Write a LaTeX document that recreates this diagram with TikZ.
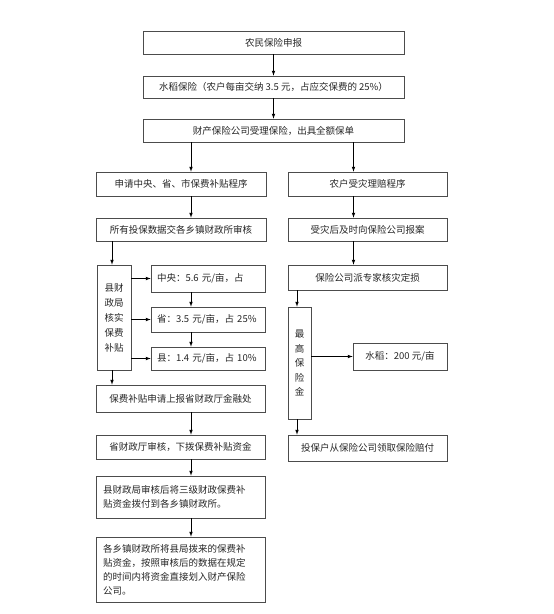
\documentclass[tikz,border=0pt]{standalone}
\usepackage{fontspec}
\setmainfont{Noto Sans CJK SC}
\usetikzlibrary{arrows}

\begin{document}
\begin{tikzpicture}[x=1pt,y=-1pt]
		\tikzset{box/.style={draw=black!70, line width=0.7pt, text=black!85, inner sep=0pt, align=center, font=\fontsize{9.5}{14}\selectfont},
			lbox/.style={box, align=left, text width=#1},
			arr/.style={->, >=latex, line width=0.7pt, black}};
		\useasboundingbox (0,0) rectangle (554,614);
		% top part
		\node[box, minimum width=261, minimum height=23] (apply) at (273.5,42.5) {农民保险申报};
		\node[box, minimum width=261, minimum height=22] (rice) at (273.5,87) {水稻保险（农户每亩交纳 3.5 元，占应交保费的 25\%）};
		\node[box, minimum width=261, minimum height=23] (accept) at (273.5,130.5) {财产保险公司受理保险，出具全额保单};
		% left column
		\node[box, minimum width=170, minimum height=24] (subsidy) at (181,184) {申请中央、省、市保费补贴程序};
		\node[box, minimum width=170, minimum height=23] (data) at (181,229.5) {所有投保数据交各乡镇财政所审核};
		\node[box, minimum width=34, minimum height=105, text depth=0pt, font=\fontsize{9.5}{15}\selectfont] (county) at (114,317.5) {县财\\政局\\核实\\保费\\补贴};
		\node[lbox=102, minimum width=114, minimum height=27] (central) at (208,278.5) {中央：5.6 元/亩，占};
		\node[lbox=102, minimum width=114, minimum height=25] (prov) at (208,319.5) {省：3.5 元/亩，占 25\%};
		\node[lbox=102, minimum width=114, minimum height=23] (cnty) at (208,358.5) {县：1.4 元/亩，占 10\%};
		\node[box, minimum width=169, minimum height=27] (report) at (180.5,398.5) {保费补贴申请上报省财政厅金融处};
		\node[box, minimum width=169, minimum height=24] (approve) at (180.5,447) {省财政厅审核，下拨保费补贴资金};
		\node[lbox=155, minimum width=169, minimum height=42] (allocate) at (180.5,497) {县财政局审核后将三级财政保费补\\贴资金拨付到各乡镇财政所。};
		\node[lbox=155, minimum width=169, minimum height=65] (transfer) at (180.5,569.5) {各乡镇财政所将县局拨来的保费补\\贴资金，按照审核后的数据在规定\\的时间内将资金直接划入财产保险\\公司。};
		% right column
		\node[box, minimum width=159, minimum height=24] (claim) at (367.5,184) {农户受灾理赔程序};
		\node[box, minimum width=159, minimum height=23] (notify) at (367.5,229.5) {受灾后及时向保险公司报案};
		\node[box, minimum width=159, minimum height=25] (assess) at (367.5,277.5) {保险公司派专家核灾定损};
		\node[box, minimum width=23, minimum height=112, font=\fontsize{9.5}{14.5}\selectfont] (maxpay) at (299.5,363) {最\\高\\保\\险\\金};
		\node[box, minimum width=94, minimum height=27] (ricepay) at (400,356.5) {水稻：200 元/亩};
		\node[box, minimum width=159, minimum height=26] (payout) at (367.5,448) {投保户从保险公司领取保险赔付};
		
		\draw[arr] (apply) -- (rice);
		\draw[arr] (rice) -- (accept);
		\draw[arr] ([xshift=10]subsidy.north |- accept.south) -- ([xshift=10]subsidy.north);
		\draw[arr] ([xshift=-14]claim.north |- accept.south) -- ([xshift=-14]claim.north);
		
		\draw[arr] ([xshift=10]subsidy.south) -- ([xshift=10]data.north);
		\draw[arr] ([xshift=-2]county.north |- data.south) -- ([xshift=-2]county.north);
		\draw[arr] (county.east |- central) -- (central.west);
		\draw[arr] (county.east |- prov) -- (prov.west);
		\draw[arr] (county.east |- cnty) -- (cnty.west);
		\draw[arr] ([xshift=-17]central.south) -- ([xshift=-17]prov.north);
		\draw[arr] ([xshift=-17]prov.south) -- ([xshift=-17]cnty.north);
		\draw[arr] ([xshift=-2]county.south) -- ([xshift=-2]county.south |- report.north);
		\draw[arr] ([xshift=10.5]report.south) -- ([xshift=10.5]approve.north);
		\draw[arr] ([xshift=10.5]approve.south) -- ([xshift=10.5]allocate.north);
		\draw[arr] ([xshift=10.5]allocate.south) -- ([xshift=10.5]transfer.north);
		
		\draw[arr] ([xshift=-14]claim.south) -- ([xshift=-14]notify.north);
		\draw[arr] ([xshift=-14]notify.south) -- ([xshift=-14]assess.north);
		\draw[arr] ([xshift=-2.5]maxpay.north |- assess.south) -- ([xshift=-2.5]maxpay.north);
		\draw[arr] (maxpay.east |- ricepay) -- (ricepay.west);
		\draw[arr] ([xshift=-2.5]maxpay.south) -- ([xshift=-2.5]maxpay.south |- payout.north);
	\end{tikzpicture}
\end{document}
